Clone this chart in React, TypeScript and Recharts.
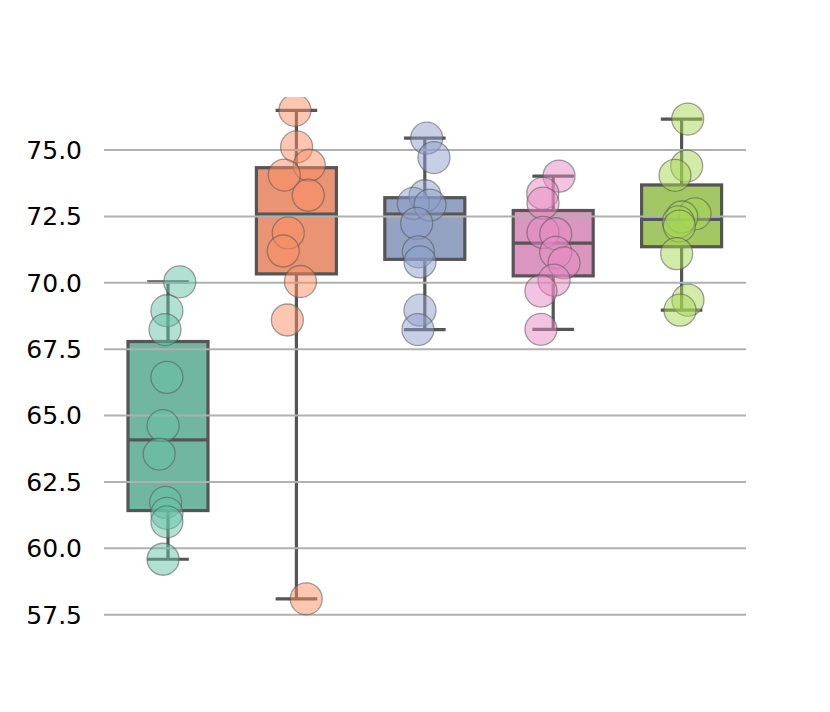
import { ComposedChart, Bar, Scatter, XAxis, YAxis, ReferenceLine, Cell } from "recharts";

const categories = ["g1", "g2", "g3", "g4", "g5"];
const boxColors = ["#71b6a1", "#e99575", "#95a3c3", "#db96c0", "#a2c764"];
const pointColors = ["#66c2a5", "#fc8d62", "#8da0cb", "#e78ac3", "#a6d854"];
const yTicks = [57.5, 60, 62.5, 65, 67.5, 70, 72.5, 75];

// values, with the horizontal jitter of each dot (category units)
const values1 = [70.04, 68.95, 68.24, 66.44, 64.62, 63.55, 61.73, 61.32, 61.0, 59.59];
const jitter1 = [0.09, -0.01, -0.025, -0.01, -0.04, -0.07, -0.02, -0.01, -0.01, -0.04];
const values2 = [76.5, 75.12, 74.43, 74.06, 73.3, 71.88, 71.2, 70.05, 68.6, 58.1];
const jitter2 = [-0.013, 0, 0.099, -0.096, 0.091, -0.065, -0.104, 0.03, -0.072, 0.075];
const values3 = [75.45, 74.72, 73.28, 72.99, 72.93, 72.24, 71.17, 70.79, 68.97, 68.24];
const jitter3 = [0.013, 0.07, 0, -0.091, 0.039, -0.065, -0.052, -0.039, -0.039, -0.055];
const values4 = [74.02, 73.37, 73.0, 71.9, 71.85, 71.15, 70.75, 70.1, 69.69, 68.25];
const jitter4 = [0.044, -0.083, -0.081, -0.081, 0.018, 0.018, 0.083, 0.005, -0.097, -0.097];
const values5 = [76.17, 74.4, 74.05, 72.6, 72.48, 72.3, 72.14, 71.1, 69.35, 68.97];
const jitter5 = [0.046, 0.038, -0.053, 0.103, 0, -0.027, -0.019, -0.04, 0.048, -0.014];

const groups = [
  [values1, jitter1],
  [values2, jitter2],
  [values3, jitter3],
  [values4, jitter4],
  [values5, jitter5],
];

function pct(sorted: number[], p: number) {
  const pos = (sorted.length - 1) * p;
  const lo = Math.floor(pos);
  const hi = Math.ceil(pos);
  return sorted[lo] + (sorted[hi] - sorted[lo]) * (pos - lo);
}

const boxRows = groups.map(([vals], i) => {
  const s = [...vals].sort((a, b) => a - b);
  return {
    name: categories[i],
    range: [s[0], s[s.length - 1]],
    min: s[0],
    max: s[s.length - 1],
    q1: pct(s, 0.25),
    median: pct(s, 0.5),
    q3: pct(s, 0.75),
  };
});

const pointSets = groups.map(([vals, jit], i) =>
  vals.map((v, j) => ({ x: i + jit[j], y: v }))
);

const LINE = "#555555";

function BoxShape(props: any) {
  const { x, y, width, height, payload, fill } = props;
  const { min, max, q1, median, q3 } = payload;
  const py = (v: number) => y + ((max - v) / (max - min)) * height;
  const cx = x + width / 2;
  const cap = width * 0.26;
  return (
    <g>
      <line x1={cx} x2={cx} y1={py(max)} y2={py(q3)} stroke={LINE} strokeWidth={3.2} />
      <line x1={cx} x2={cx} y1={py(q1)} y2={py(min)} stroke={LINE} strokeWidth={3.2} />
      <line x1={cx - cap} x2={cx + cap} y1={py(max)} y2={py(max)} stroke={LINE} strokeWidth={3.2} />
      <line x1={cx - cap} x2={cx + cap} y1={py(min)} y2={py(min)} stroke={LINE} strokeWidth={3.2} />
      <rect x={x} y={py(q3)} width={width} height={py(q1) - py(q3)} fill={fill} stroke={LINE} strokeWidth={3.2} />
      <line x1={x} x2={x + width} y1={py(median)} y2={py(median)} stroke={LINE} strokeWidth={3.2} />
    </g>
  );
}

function Dot(color: string) {
  return (props: any) => (
    <circle
      cx={props.cx}
      cy={props.cy}
      r={16}
      fill={color}
      fillOpacity={0.5}
      stroke="#555555"
      strokeOpacity={0.55}
      strokeWidth={1.3}
    />
  );
}

export default function App() {
  return (
    <div style={{ width: 814, height: 696 }}>
      <ComposedChart
        width={814}
        height={696}
        data={boxRows}
        margin={{ top: 89, right: 76, left: 0, bottom: 76 }}
      >
        <XAxis xAxisId="cat" dataKey="name" type="category" hide />
        <XAxis xAxisId="num" dataKey="x" type="number" domain={[-0.5, 4.5]} allowDataOverflow hide />
        <YAxis
          type="number"
          domain={[57, 77]}
          ticks={yTicks}
          allowDataOverflow
          width={96}
          axisLine={false}
          tickLine={false}
          tickSize={0}
          tickMargin={22}
          tickFormatter={(v: number) => v.toFixed(1)}
          tick={{ fill: "#000", fontSize: 25, fontFamily: "DejaVu Sans" }}
        />
        <Bar xAxisId="cat" dataKey="range" barSize={80} shape={BoxShape} isAnimationActive={false}>
          {boxRows.map((r, i) => (
            <Cell key={`box-${r.name}`} fill={boxColors[i]} />
          ))}
        </Bar>
        {yTicks.map((t) => (
          <ReferenceLine key={`grid-${t}`} xAxisId="cat" y={t} stroke="#b0b0b0" strokeWidth={2} />
        ))}
        {pointSets.map((pts, i) => (
          <Scatter
            key={`pts-${i}`}
            xAxisId="num"
            data={pts}
            dataKey="y"
            shape={Dot(pointColors[i])}
            isAnimationActive={false}
          />
        ))}
      </ComposedChart>
    </div>
  );
}
